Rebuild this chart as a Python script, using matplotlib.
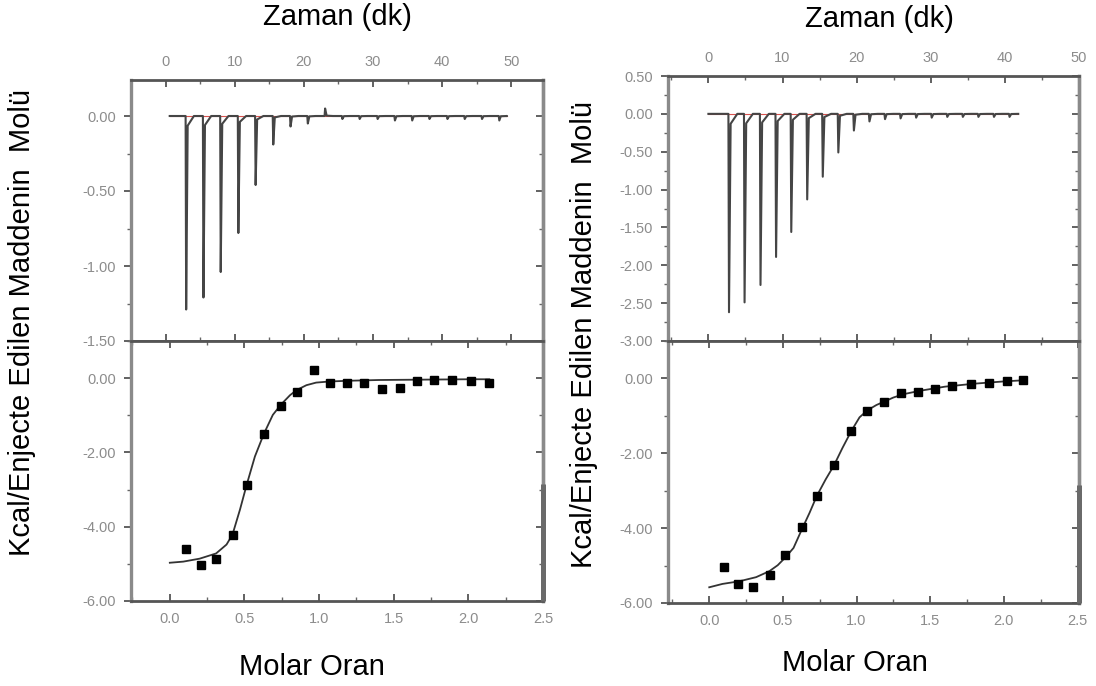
import matplotlib
matplotlib.use("Agg")
import matplotlib.pyplot as plt
from matplotlib.ticker import MultipleLocator, FormatStrFormatter

plt.rcParams['font.family'] = ['Liberation Sans', 'DejaVu Sans']
plt.rcParams['axes.unicode_minus'] = False

# raw heat peaks (left run)
left_inj_time = [2.9, 5.4, 7.9, 10.45, 12.95, 15.5, 18.0, 20.5, 23.0, 25.5, 28.0,
                 30.6, 33.1, 35.6, 38.1, 40.7, 43.2, 45.7, 48.2]
left_inj_heat = [-1.29, -1.21, -1.04, -0.78, -0.46, -0.19, -0.07, -0.05, 0.05, -0.02,
                 -0.02, -0.02, -0.03, -0.03, -0.02, -0.02, -0.02, -0.02, -0.03]
left_run = (0.6, 49.4)

# integrated heats (left run)
left_ratio = [0.11, 0.21, 0.31, 0.42, 0.52, 0.63, 0.745, 0.85, 0.965, 1.075, 1.185,
              1.30, 1.42, 1.54, 1.655, 1.77, 1.89, 2.02, 2.14]
left_kcal = [-4.59, -5.04, -4.88, -4.23, -2.87, -1.50, -0.74, -0.38, 0.21, -0.12, -0.12,
             -0.12, -0.30, -0.26, -0.07, -0.05, -0.05, -0.08, -0.12]
left_fit_x = [0.0, 0.09, 0.2, 0.31, 0.38, 0.42, 0.47, 0.515, 0.57, 0.63, 0.69, 0.745,
              0.805, 0.85, 0.915, 0.98, 1.07, 1.2, 1.4, 1.7, 2.0, 2.14]
left_fit_y = [-4.97, -4.94, -4.86, -4.72, -4.48, -4.21, -3.54, -2.87, -2.11, -1.50, -0.99,
              -0.71, -0.46, -0.32, -0.19, -0.12, -0.09, -0.07, -0.05, -0.04, -0.03, -0.03]

# raw heat peaks (right run)
right_inj_time = [2.7, 4.8, 6.95, 9.05, 11.1, 13.25, 15.35, 17.45, 19.55, 21.65, 23.75,
                  25.85, 27.95, 30.05, 32.15, 34.25, 36.35, 38.45, 40.55]
right_inj_heat = [-2.62, -2.49, -2.26, -1.89, -1.56, -1.13, -0.83, -0.51, -0.22, -0.10,
                  -0.07, -0.06, -0.05, -0.05, -0.04, -0.04, -0.04, -0.04, -0.04]
right_run = (0.0, 41.8)

# integrated heats (right run)
right_ratio = [0.097, 0.198, 0.30, 0.414, 0.515, 0.628, 0.73, 0.846, 0.965, 1.074, 1.187,
               1.30, 1.42, 1.535, 1.651, 1.777, 1.90, 2.02, 2.13]
right_kcal = [-5.04, -5.49, -5.57, -5.26, -4.73, -3.98, -3.14, -2.32, -1.40, -0.86, -0.64,
              -0.39, -0.35, -0.27, -0.20, -0.15, -0.11, -0.06, -0.04]
right_fit_x = [0.0, 0.09, 0.204, 0.318, 0.408, 0.465, 0.515, 0.572, 0.629, 0.681, 0.73,
               0.79, 0.847, 0.904, 0.965, 1.02, 1.074, 1.135, 1.187, 1.25, 1.32, 1.43,
               1.6, 1.8, 2.0, 2.13]
right_fit_y = [-5.58, -5.49, -5.42, -5.31, -5.15, -4.99, -4.79, -4.53, -4.03, -3.59, -3.14,
               -2.70, -2.32, -1.86, -1.40, -1.04, -0.85, -0.71, -0.62, -0.51, -0.42, -0.33,
               -0.22, -0.14, -0.08, -0.05]

W, H = 1096, 686
fig = plt.figure(figsize=(W / 100, H / 100), dpi=100)

TICK_GREY = '#8c8c8c'


def pane(x0, x1, y0, y1):
    return fig.add_axes([x0 / W, 1 - y1 / H, (x1 - x0) / W, (y1 - y0) / H])


def dress(ax, xmaj, xmin, ymaj, ymin, xfmt, yfmt, labeltop):
    ax.xaxis.set_major_locator(MultipleLocator(xmaj))
    ax.xaxis.set_minor_locator(MultipleLocator(xmin))
    ax.yaxis.set_major_locator(MultipleLocator(ymaj))
    ax.yaxis.set_minor_locator(MultipleLocator(ymin))
    ax.xaxis.set_major_formatter(FormatStrFormatter(xfmt))
    ax.yaxis.set_major_formatter(FormatStrFormatter(yfmt))
    ax.tick_params(axis='x', which='both', direction='in', top=True, bottom=True,
                   labeltop=labeltop, labelbottom=not labeltop, pad=8)
    ax.tick_params(axis='y', which='both', direction='out', left=True, right=False, pad=6)
    ax.tick_params(which='major', length=5, width=1.3, color='#555555')
    ax.tick_params(which='minor', length=3, width=1.0, color='#666666')
    ax.tick_params(labelsize=10.5, labelcolor=TICK_GREY)
    for side in ('top', 'bottom'):
        ax.spines[side].set_color('#555555')
        ax.spines[side].set_linewidth(2.0)
    for side in ('left', 'right'):
        ax.spines[side].set_color('#8a8a8a')
        ax.spines[side].set_linewidth(2.4)
    sec = ax.secondary_yaxis('right')
    sec.yaxis.set_major_locator(MultipleLocator(ymaj))
    sec.yaxis.set_minor_locator(MultipleLocator(ymin))
    sec.tick_params(which='both', direction='in', labelright=False)
    sec.tick_params(which='major', length=5, width=1.3, color='#555555')
    sec.tick_params(which='minor', length=3, width=1.0, color='#666666')
    sec.spines['right'].set_color('#8a8a8a')
    sec.spines['right'].set_linewidth(2.4)


def thermogram(ax, times, heats, run):
    tt, yy = [run[0]], [0.0]
    for t, q in zip(times, heats):
        tt += [t, t + 0.08, t + 0.3, t + 1.2]
        yy += [0.0, q, 0.05 * q, 0.0]
    tt.append(run[1])
    yy.append(0.0)
    ax.plot(run, [0, 0], color='#d9534f', lw=0.8, zorder=2)
    ax.plot(tt, yy, color='#454545', lw=1.5, zorder=3)


def isotherm(ax, ratio, kcal, fx, fy):
    ax.plot(fx, fy, color='#333333', lw=1.3, zorder=2)
    ax.plot(ratio, kcal, 's', color='black', ms=6, zorder=3)
    # heavier stretch on the lower right frame edge
    ax.plot([1, 1], [0, 0.45], transform=ax.transAxes, color='#6a6a6a', lw=3.6,
            clip_on=False, solid_capstyle='butt', zorder=4)


# left pair
ax1 = pane(131, 543, 80, 341)
thermogram(ax1, left_inj_time, left_inj_heat, left_run)
ax1.set_xlim(-5, 54.6)
ax1.set_ylim(-1.5, 0.24)
dress(ax1, 10, 5, 0.5, 0.25, '%d', '%.2f', True)

ax2 = pane(131, 543, 341, 601)
isotherm(ax2, left_ratio, left_kcal, left_fit_x, left_fit_y)
ax2.set_xlim(-0.26, 2.5)
ax2.set_ylim(-6, 1)
dress(ax2, 0.5, 0.25, 2, 1, '%.1f', '%.2f', False)

# right pair
ax3 = pane(668, 1079, 76, 341)
thermogram(ax3, right_inj_time, right_inj_heat, right_run)
ax3.set_xlim(-5.45, 50)
ax3.set_ylim(-3, 0.5)
dress(ax3, 10, 5, 0.5, 0.25, '%d', '%.2f', True)

ax4 = pane(668, 1079, 341, 603)
isotherm(ax4, right_ratio, right_kcal, right_fit_x, right_fit_y)
ax4.set_xlim(-0.28, 2.51)
ax4.set_ylim(-6, 1)
dress(ax4, 0.5, 0.25, 2, 1, '%.1f', '%.2f', False)

ylab = 'Kcal/Enjecte Edilen Maddenin  Molü'
fig.text(337 / W, 1 - 17 / H, 'Zaman (dk)', ha='center', va='center', fontsize=21)
fig.text(879 / W, 1 - 19 / H, 'Zaman (dk)', ha='center', va='center', fontsize=21)
fig.text(312 / W, 1 - 667 / H, 'Molar Oran', ha='center', va='center', fontsize=21)
fig.text(855 / W, 1 - 663 / H, 'Molar Oran', ha='center', va='center', fontsize=21)
fig.text(22 / W, 1 - 322 / H, ylab, rotation=90, ha='center', va='center', fontsize=21)
fig.text(584 / W, 1 - 334 / H, ylab, rotation=90, ha='center', va='center', fontsize=21)

fig.savefig('out.png', dpi=100)
